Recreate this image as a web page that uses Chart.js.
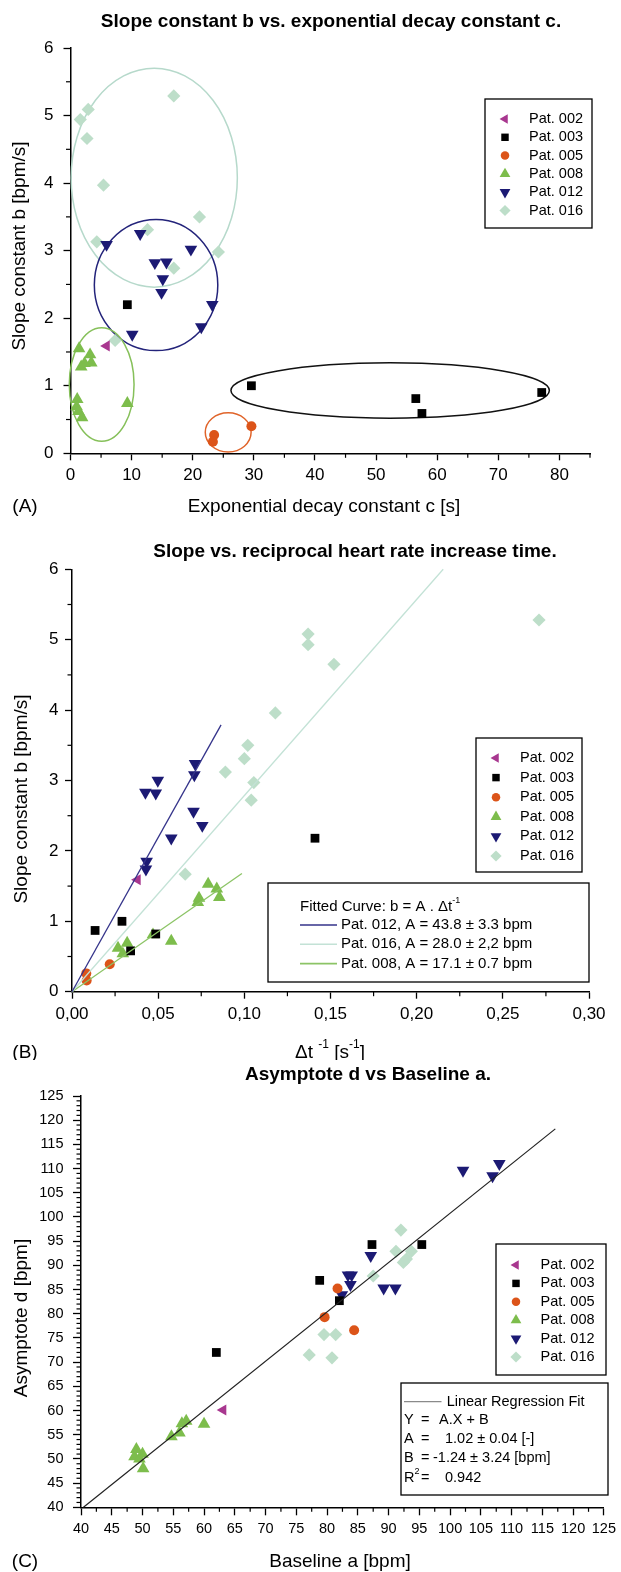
<!DOCTYPE html>
<html>
<head>
<meta charset="utf-8">
<script src="https://cdn.jsdelivr.net/npm/chart.js@4.4.0/dist/chart.umd.min.js"></script>
<style>
  html, body { margin: 0; padding: 0; background: #fff; }
  #wrap { position: relative; width: 621px; height: 1572px; }
  canvas { position: absolute; left: 0; }
</style>
</head>
<body>
<div id="wrap">
  <canvas id="chartA" style="top:0px"></canvas>
  <canvas id="chartB" style="top:520px"></canvas>
  <canvas id="chartC" style="top:1060px"></canvas>
</div>
<script>
const W = 621;
const SANS = '"Liberation Sans", Arial, Helvetica, sans-serif';

const patients = ['Pat. 002', 'Pat. 003', 'Pat. 005', 'Pat. 008', 'Pat. 012', 'Pat. 016'];
const patientColors = ['#a8378f', '#000000', '#dc5419', '#7dbd4c', '#1c1a74', '#bddec9'];
const patientStyles = ['triangle', 'rect', 'circle', 'triangle', 'triangle', 'rectRot'];
const patientRotation = [-90, 0, 0, 0, 180, 0];
const patientRadius = [6.4, 6.2, 5, 7.3, 7.3, 6.6];

// (A) slope constant b [bpm/s] vs exponential decay constant c [s], one row per patient
const decayC = [
  [5.9],
  [9.3, 29.6, 56.5, 57.5, 77.1],
  [23.5, 23.3, 29.6],
  [1.4, 3.2, 3.4, 1.75, 2.3, 1.1, 1.0, 1.3, 1.9, 9.3],
  [5.9, 11.4, 13.8, 15.7, 15.1, 14.9, 19.7, 23.2, 21.4, 10.1],
  [16.9, 1.6, 2.9, 2.7, 5.4, 21.1, 12.6, 4.3, 24.2, 16.9, 7.3]
];
const slopeA = [
  [1.59],
  [2.2, 1.0, 0.81, 0.59, 0.9],
  [0.27, 0.17, 0.4],
  [1.55, 1.46, 1.34, 1.28, 1.33, 0.8, 0.69, 0.62, 0.53, 0.74],
  [3.09, 3.25, 2.82, 2.83, 2.58, 2.38, 3.02, 2.2, 1.87, 1.76],
  [5.29, 4.94, 5.09, 4.66, 3.97, 3.5, 3.31, 3.13, 2.98, 2.74, 1.67]
];
// group ellipses in (A): 016, 012, 008, 005, 003
const ellipseColors = ['#b6d9cb', '#23237a', '#86c05a', '#e0642a', '#111111'];
const ellipseCx = [13.7, 14.0, 5.1, 25.8, 52.3];
const ellipseCy = [4.08, 2.49, 1.02, 0.31, 0.93];
const ellipseRx = [13.6, 10.1, 5.3, 3.75, 26.05];
const ellipseRy = [1.62, 0.97, 0.84, 0.29, 0.41];

// (B) slope constant b vs reciprocal increase time 1/dt [1/s]
const invDt = [
  [0.038],
  [0.0134, 0.029, 0.034, 0.0486, 0.141],
  [0.0083, 0.0085, 0.0219],
  [0.0267, 0.0295, 0.032, 0.047, 0.0576, 0.073, 0.0737, 0.079, 0.084, 0.0855],
  [0.0426, 0.0486, 0.0498, 0.0714, 0.071, 0.0705, 0.0756, 0.0576, 0.0433, 0.0429],
  [0.271, 0.137, 0.137, 0.152, 0.118, 0.102, 0.100, 0.089, 0.1055, 0.104, 0.0657]
];
const slopeB = [
  [1.59],
  [0.87, 1.0, 0.58, 0.82, 2.18],
  [0.26, 0.16, 0.39],
  [0.62, 0.54, 0.69, 0.81, 0.72, 1.27, 1.33, 1.53, 1.46, 1.34],
  [2.83, 2.82, 3.0, 3.24, 3.08, 2.56, 2.36, 2.18, 1.85, 1.74],
  [5.28, 5.08, 4.93, 4.65, 3.96, 3.5, 3.31, 3.12, 2.97, 2.72, 1.67]
];
// fitted lines b = A * dt^-1, end points
const fitNames = ['Pat. 012, A = 43.8 \u00b1 3.3 bpm', 'Pat. 016, A = 28.0 \u00b1 2,2 bpm', 'Pat. 008, A = 17.1 \u00b1 0.7 bpm'];
const fitColors = ['#34338a', '#c3e2d6', '#8cc466'];
const fitX = [[0, 0.0865], [0, 0.2154], [0, 0.0986]];
const fitY = [[0, 3.79], [0, 6.0], [0, 1.68]];

// (C) asymptote d [bpm] vs baseline a [bpm]
const baselineA = [
  [63.1],
  [62.0, 78.8, 87.3, 95.4, 82.0],
  [81.7, 79.6, 84.4],
  [49.0, 48.7, 50.0, 49.5, 50.1, 54.7, 56.0, 56.4, 57.1, 60.0],
  [102.1, 106.9, 108.0, 87.1, 83.4, 84.0, 83.8, 82.4, 89.2, 91.1],
  [92.0, 91.2, 93.7, 92.4, 92.9, 87.5, 79.5, 81.4, 77.1, 80.8]
];
const asymptoteD = [
  [60.1],
  [72.0, 86.9, 94.3, 94.3, 82.7],
  [85.2, 79.3, 76.6],
  [52.0, 50.5, 51.0, 50.0, 48.0, 54.6, 55.4, 57.3, 57.8, 57.2],
  [109.6, 108.5, 111.0, 92.0, 88.0, 88.0, 86.0, 83.9, 85.3, 85.3],
  [97.3, 92.9, 92.9, 90.6, 91.3, 87.8, 75.7, 75.7, 71.5, 70.9]
];
const regX = [40.4, 117.1];
const regY = [40.0, 118.2];

function pts(xs, ys) {
  return xs.map((x, i) => ({ x: x, y: ys[i] }));
}
function isMult(v, m) {
  return Math.abs(v / m - Math.round(v / m)) < 1e-6;
}

function markerSets(xsList, ysList) {
  return patients.map((p, i) => ({
    label: p,
    data: pts(xsList[i], ysList[i]),
    pointStyle: patientStyles[i],
    pointRotation: patientRotation[i],
    pointRadius: patientRadius[i],
    pointBackgroundColor: patientColors[i],
    pointBorderWidth: 0,
    pointBorderColor: 'rgba(0,0,0,0)',
    clip: false,
    order: 2
  }));
}

function lineSet(xs, ys, color, width) {
  return {
    data: pts(xs, ys), showLine: true, pointRadius: 0,
    borderColor: color, borderWidth: width, clip: false, order: 1
  };
}

// ---- drawing helpers
function text(ctx, str, x, y, size, opts) {
  opts = opts || {};
  ctx.save();
  ctx.font = (opts.bold ? 'bold ' : '') + size + 'px ' + SANS;
  ctx.fillStyle = '#000';
  ctx.textAlign = opts.align || 'center';
  ctx.textBaseline = 'middle';
  if (opts.rotate) {
    ctx.translate(x, y);
    ctx.rotate(-Math.PI / 2);
    ctx.fillText(str, 0, 0);
  } else {
    ctx.fillText(str, x, y);
  }
  ctx.restore();
}

// parts: [[string, isSuperscript], ...]
function richText(ctx, parts, x, y, size, align) {
  ctx.save();
  ctx.fillStyle = '#000';
  ctx.textBaseline = 'middle';
  ctx.textAlign = 'left';
  const fontOf = sup => (sup ? Math.round(size * 0.62) : size) + 'px ' + SANS;
  let total = 0;
  parts.forEach(p => { ctx.font = fontOf(p[1]); total += ctx.measureText(p[0]).width; });
  let cx = align === 'center' ? x - total / 2 : x;
  parts.forEach(p => {
    ctx.font = fontOf(p[1]);
    ctx.fillText(p[0], cx, p[1] ? y - size * 0.42 : y);
    cx += ctx.measureText(p[0]).width;
  });
  ctx.restore();
}

function drawMarker(ctx, i, x, y, r) {
  const rot = patientRotation[i] * Math.PI / 180;
  ctx.save();
  ctx.fillStyle = patientColors[i];
  ctx.beginPath();
  if (patientStyles[i] === 'circle') {
    ctx.arc(x, y, r, 0, Math.PI * 2);
  } else if (patientStyles[i] === 'rect') {
    const h = r * Math.SQRT1_2;
    ctx.rect(x - h, y - h, 2 * h, 2 * h);
  } else if (patientStyles[i] === 'rectRot') {
    ctx.moveTo(x - r, y); ctx.lineTo(x, y - r); ctx.lineTo(x + r, y); ctx.lineTo(x, y + r);
  } else {
    let a = rot;
    ctx.moveTo(x + Math.sin(a) * r, y - Math.cos(a) * r);
    a += Math.PI * 2 / 3;
    ctx.lineTo(x + Math.sin(a) * r, y - Math.cos(a) * r);
    a += Math.PI * 2 / 3;
    ctx.lineTo(x + Math.sin(a) * r, y - Math.cos(a) * r);
  }
  ctx.closePath();
  ctx.fill();
  ctx.restore();
}

function box(ctx, x, y, w, h) {
  ctx.save();
  ctx.strokeStyle = '#000';
  ctx.lineWidth = 1.3;
  ctx.strokeRect(x, y, w, h);
  ctx.restore();
}

function legend(ctx, bx, by, bw, bh, row0, rowStep, markerX, textX) {
  box(ctx, bx, by, bw, bh);
  patients.forEach((p, i) => {
    const y = row0 + rowStep * i;
    drawMarker(ctx, i, markerX, y, patientRadius[i] * 0.85);
    text(ctx, p, textX, y, 14.5, { align: 'left' });
  });
}

function sample(ctx, x1, x2, y, color, width) {
  ctx.save();
  ctx.strokeStyle = color;
  ctx.lineWidth = width;
  ctx.beginPath();
  ctx.moveTo(x1, y);
  ctx.lineTo(x2, y);
  ctx.stroke();
  ctx.restore();
}

// short minor ticks (major ones come from Chart.js grid)
const minorTicks = {
  id: 'minorTicks',
  afterDraw(chart) {
    const ctx = chart.ctx;
    const spec = chart.config.options.axisSpec;
    ctx.save();
    ctx.strokeStyle = '#000';
    ctx.lineWidth = 1.2;
    ['x', 'y'].forEach(id => {
      const s = chart.scales[id];
      s.ticks.forEach(t => {
        if (spec[id].isMajor(t.value)) return;
        const p = s.getPixelForValue(t.value);
        ctx.beginPath();
        if (id === 'x') { ctx.moveTo(p, s.top); ctx.lineTo(p, s.top + 4.5); }
        else { ctx.moveTo(s.right, p); ctx.lineTo(s.right - 4.5, p); }
        ctx.stroke();
      });
    });
    ctx.restore();
  }
};

const Y_W = 60, X_H = 40;

function axisOpts(a, dir) {
  return {
    type: 'linear',
    position: dir === 'x' ? 'bottom' : 'left',
    min: a.min, max: a.max,
    afterFit: s => { if (dir === 'x') s.height = X_H; else s.width = Y_W; },
    border: { display: true, color: '#000', width: 1.5 },
    grid: {
      display: true, drawOnChartArea: false, drawTicks: true,
      tickLength: a.tickLen, tickWidth: 1.3,
      tickColor: c => (c.tick && a.isMajor(c.tick.value)) ? '#000' : 'rgba(0,0,0,0)'
    },
    ticks: {
      stepSize: a.step, autoSkip: false, maxRotation: 0, minRotation: 0,
      padding: a.pad, color: '#000',
      font: { family: SANS, size: a.font },
      callback: v => a.isMajor(v) ? a.fmt(v) : ''
    }
  };
}

function makePanel(id, cfg) {
  const canvas = document.getElementById(id);
  canvas.width = W;
  canvas.height = cfg.height;
  canvas.style.width = W + 'px';
  canvas.style.height = cfg.height + 'px';
  return new Chart(canvas, {
    type: 'scatter',
    data: { datasets: cfg.datasets },
    options: {
      responsive: false, animation: false, devicePixelRatio: 1, events: [],
      axisSpec: { x: cfg.x, y: cfg.y },
      layout: {
        padding: {
          left: cfg.area.left - Y_W, right: W - cfg.area.right,
          top: cfg.area.top, bottom: cfg.height - cfg.area.bottom - X_H
        }
      },
      plugins: { legend: { display: false }, tooltip: { enabled: false } },
      scales: { x: axisOpts(cfg.x, 'x'), y: axisOpts(cfg.y, 'y') }
    },
    plugins: [minorTicks].concat(cfg.extra)
  });
}

// ---------- panel A
makePanel('chartA', {
  height: 520,
  area: { left: 70.5, right: 590, top: 48, bottom: 453.3 },
  datasets: markerSets(decayC, slopeA),
  x: { min: 0, max: 85, step: 5, tickLen: 7, pad: 5, font: 17, isMajor: v => isMult(v, 10), fmt: v => String(v) },
  y: { min: 0, max: 6, step: 0.5, tickLen: 7, pad: 10, font: 17, isMajor: v => isMult(v, 1), fmt: v => String(Math.round(v)) },
  extra: [{
    id: 'decorA',
    beforeDatasetsDraw(chart) {
      const ctx = chart.ctx, sx = chart.scales.x, sy = chart.scales.y;
      ctx.save();
      ctx.lineWidth = 1.5;
      ellipseCx.forEach((cx, i) => {
        const px = sx.getPixelForValue(cx), py = sy.getPixelForValue(ellipseCy[i]);
        const rx = Math.abs(sx.getPixelForValue(cx + ellipseRx[i]) - px);
        const ry = Math.abs(sy.getPixelForValue(ellipseCy[i] + ellipseRy[i]) - py);
        ctx.strokeStyle = ellipseColors[i];
        ctx.beginPath();
        ctx.ellipse(px, py, rx, ry, 0, 0, Math.PI * 2);
        ctx.stroke();
      });
      ctx.restore();
    },
    afterDraw(chart) {
      const ctx = chart.ctx;
      text(ctx, 'Slope constant b vs. exponential decay constant c.', 331, 22, 19, { bold: true });
      text(ctx, 'Exponential decay constant c [s]', 324, 507, 19);
      text(ctx, '(A)', 25, 507, 19);
      text(ctx, 'Slope constant b [bpm/s]', 20, 246, 19, { rotate: true });
      legend(ctx, 485, 99, 107, 129, 119, 18.3, 505, 529);
    }
  }]
});

// ---------- panel B
const datasetsB = markerSets(invDt, slopeB).concat(
  fitX.map((xs, i) => lineSet(xs, fitY[i], fitColors[i], 1.3))
);
makePanel('chartB', {
  height: 540,
  area: { left: 72, right: 589, top: 49.3, bottom: 471.7 },
  datasets: datasetsB,
  x: { min: 0, max: 0.3, step: 0.025, tickLen: 7, pad: 5, font: 17, isMajor: v => isMult(v, 0.05), fmt: v => v.toFixed(2).replace('.', ',') },
  y: { min: 0, max: 6, step: 0.5, tickLen: 7, pad: 6.5, font: 17, isMajor: v => isMult(v, 1), fmt: v => String(Math.round(v)) },
  extra: [{
    id: 'decorB',
    afterDraw(chart) {
      const ctx = chart.ctx;
      text(ctx, 'Slope vs. reciprocal heart rate increase time.', 355, 32, 19, { bold: true });
      richText(ctx, [['\u0394t ', false], ['-1', true], [' [s', false], ['-1', true], [']', false]], 330, 533, 19, 'center');
      text(ctx, '(B)', 25, 533, 19);
      text(ctx, 'Slope constant b [bpm/s]', 22, 279, 19, { rotate: true });
      legend(ctx, 476, 218, 106, 134, 238, 19.6, 496, 520);
      box(ctx, 268, 363, 321, 99);
      richText(ctx, [['Fitted Curve: b = A . \u0394t', false], ['-1', true]], 300, 386.7, 15, 'left');
      fitNames.forEach((n, i) => {
        const y = 405 + 19.3 * i;
        sample(ctx, 300, 337, y, fitColors[i], 1.6);
        text(ctx, n, 341, y, 15, { align: 'left' });
      });
    }
  }]
});

// ---------- panel C
const datasetsC = markerSets(baselineA, asymptoteD).concat([lineSet(regX, regY, '#222222', 1.2)]);
makePanel('chartC', {
  height: 512,
  area: { left: 81, right: 608, top: 36, bottom: 447.3 },
  datasets: datasetsC,
  x: { min: 40, max: 125, step: 2.5, tickLen: 8, pad: 5, font: 14.5, isMajor: v => isMult(v, 5), fmt: v => String(Math.round(v)) },
  y: { min: 40, max: 125, step: 1, tickLen: 8, pad: 9.5, font: 14.5, isMajor: v => isMult(v, 5), fmt: v => String(Math.round(v)) },
  extra: [{
    id: 'decorC',
    afterDraw(chart) {
      const ctx = chart.ctx;
      text(ctx, 'Asymptote d vs Baseline a.', 368, 15, 19, { bold: true });
      text(ctx, 'Baseline a [bpm]', 340, 501.7, 19);
      text(ctx, '(C)', 25, 501.7, 19);
      text(ctx, 'Asymptote d [bpm]', 22, 258, 19, { rotate: true });
      legend(ctx, 496, 184, 110, 131, 205, 18.4, 516, 540.5);
      box(ctx, 401, 323, 207, 112);
      sample(ctx, 404, 441.5, 341.7, '#8a8a8a', 1.2);
      text(ctx, 'Linear Regression Fit', 446.7, 341.7, 14.5, { align: 'left' });
      const rowsY = [360, 378.7, 397.7, 418];
      const rowValues = ['A.X + B', '1.02 \u00b1 0.04 [-]', '-1.24 \u00b1 3.24 [bpm]', '0.942'];
      const rowValueX = [439, 445, 433, 445];
      rowsY.forEach((y, i) => {
        if (i === 3) richText(ctx, [['R', false], ['2', true]], 404, y, 14.5, 'left');
        else text(ctx, ['Y', 'A', 'B'][i], 404, y, 14.5, { align: 'left' });
        text(ctx, '=', 421, y, 14.5, { align: 'left' });
        text(ctx, rowValues[i], rowValueX[i], y, 14.5, { align: 'left' });
      });
    }
  }]
});
</script>
</body>
</html>
